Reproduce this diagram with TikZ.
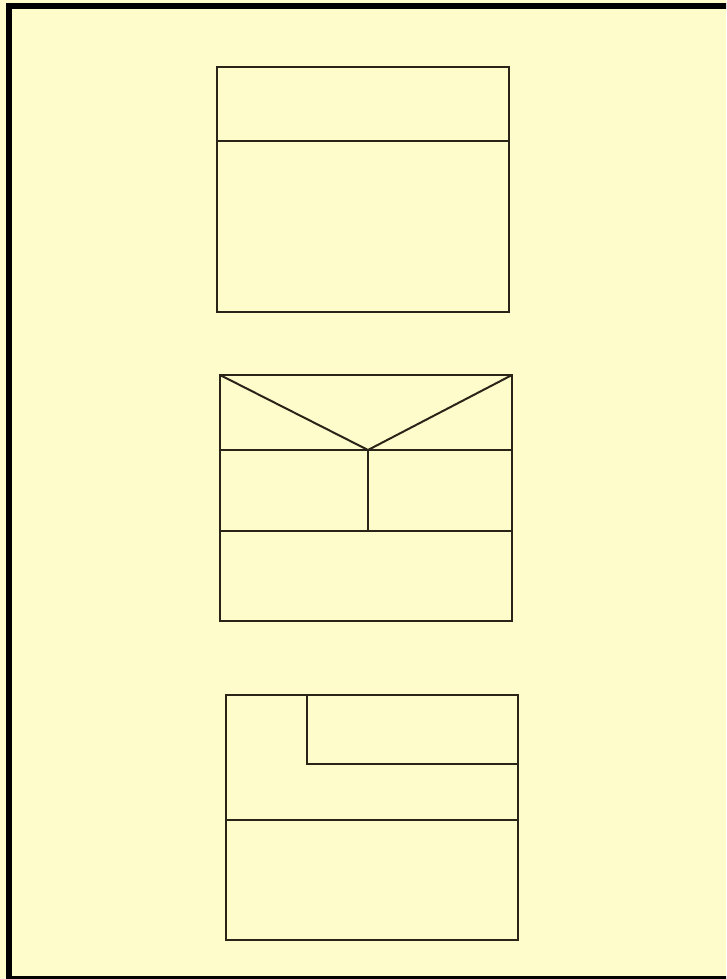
\documentclass[tikz,border=0pt]{standalone}
\definecolor{bg}{HTML}{FFFCCC}
\definecolor{ink}{HTML}{2A2418}
\begin{document}
\begin{tikzpicture}[x=1pt,y=-1pt,
  shape line/.style={draw=ink,line width=2pt,line join=miter},
  frame line/.style={draw=black,line width=6pt}]
\useasboundingbox (0,0) rectangle (726,979);
\clip (0,0) rectangle (726,979);
\fill[bg] (0,0) rectangle (726,979);
\draw[frame line] (9,6) rectangle (733,979);
% top figure
\draw[shape line] (217,67) rectangle (509,312);
\draw[shape line] (217,141) -- (509,141);
% middle figure
\coordinate (v) at (368,450);
\draw[shape line] (220,375) rectangle (512,621);
\draw[shape line] (220,450) -- (512,450);
\draw[shape line] (220,531) -- (512,531);
\draw[shape line] (220,375) -- (v) -- (512,375);
\draw[shape line] (v) -- (368,531);
% bottom figure
\draw[shape line] (226,695) rectangle (518,940);
\draw[shape line] (307,695) -- (307,764) -- (518,764);
\draw[shape line] (226,820) -- (518,820);
\end{tikzpicture}
\end{document}
